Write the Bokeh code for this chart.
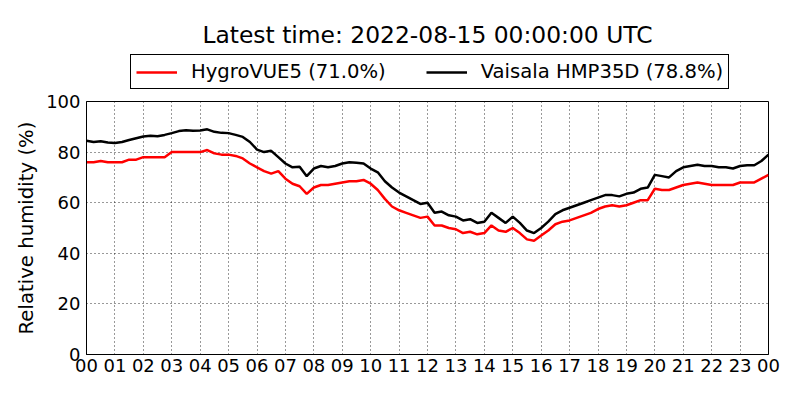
from bokeh.plotting import figure
from bokeh.models import Legend, LegendItem, FixedTicker, Range1d, Label
from bokeh.layouts import column
from bokeh.embed import file_html
from bokeh.resources import INLINE

# time in hours since 2022-08-14 00:00 UTC (15-minute samples)
hours = [0.00, 0.25, 0.50, 0.75, 1.00, 1.25, 1.50, 1.75, 2.00, 2.25, 2.50, 2.75,
         3.00, 3.25, 3.50, 3.75, 4.00, 4.25, 4.50, 4.75, 5.00, 5.25, 5.50, 5.75,
         6.00, 6.25, 6.50, 6.75, 7.00, 7.25, 7.50, 7.75, 8.00, 8.25, 8.50, 8.75,
         9.00, 9.25, 9.50, 9.75, 10.00, 10.25, 10.50, 10.75, 11.00, 11.25, 11.50, 11.75,
         12.00, 12.25, 12.50, 12.75, 13.00, 13.25, 13.50, 13.75, 14.00, 14.25, 14.50, 14.75,
         15.00, 15.25, 15.50, 15.75, 16.00, 16.25, 16.50, 16.75, 17.00, 17.25, 17.50, 17.75,
         18.00, 18.25, 18.50, 18.75, 19.00, 19.25, 19.50, 19.75, 20.00, 20.25, 20.50, 20.75,
         21.00, 21.25, 21.50, 21.75, 22.00, 22.25, 22.50, 22.75, 23.00, 23.25, 23.50, 23.75,
         24.00]

hygrovue5 = [76, 76, 76.5, 76, 76, 76, 77, 77, 78, 78, 78, 78,
             80, 80, 80, 80, 80, 80.8, 79.5, 79, 79, 78.5, 77.5, 75.5,
             74, 72.5, 71.5, 72.5, 69.5, 67.5, 66.5, 63.5, 66, 67, 67, 67.5,
             68, 68.5, 68.5, 69, 67.5, 65, 61.5, 58.5, 57, 56, 55, 54,
             54.5, 51, 51, 50, 49.5, 48, 48.5, 47.5, 48, 51, 49, 48.5,
             50, 48, 45.5, 45, 47, 49, 51.5, 52.5, 53, 54, 55, 56,
             57.5, 58.5, 59, 58.5, 59, 60, 61, 61, 65.5, 65, 65, 66,
             67, 67.5, 68, 67.5, 67, 67, 67, 67, 68, 68, 68, 69.5,
             71]

hmp35d = [84.5, 84.0, 84.3, 83.8, 83.6, 84.0, 84.8, 85.5, 86.2, 86.5, 86.3, 86.8,
          87.5, 88.3, 88.6, 88.4, 88.5, 89.0, 88.0, 87.6, 87.5, 86.8, 86.0, 84.0,
          81.0, 80.0, 80.5, 78.0, 75.5, 74.0, 74.2, 70.5, 73.5, 74.5, 74.0, 74.5,
          75.5, 76.0, 75.8, 75.5, 73.5, 72.0, 68.5, 66.0, 64.0, 62.5, 61.0, 59.5,
          60.0, 56.0, 56.5, 55.0, 54.5, 53.0, 53.5, 52.0, 52.5, 56.0, 54.0, 52.0,
          54.5, 52.0, 49.0, 48.0, 50.0, 52.5, 55.5, 57.0, 58.0, 59.0, 60.0, 61.0,
          62.0, 63.0, 63.0, 62.5, 63.5, 64.0, 65.5, 66.0, 71.0, 70.5, 70.0, 72.5,
          74.0, 74.5, 75.0, 74.5, 74.5, 74.0, 74.0, 73.5, 74.5, 74.8, 74.8, 76.5,
          79.0]

series_names = ["HygroVUE5 (71.0%)", "Vaisala HMP35D (78.8%)"]
series_colors = ["red", "black"]
title_text = "Latest time: 2022-08-15 00:00:00 UTC"

x_ticks = list(range(25))
x_tick_labels = ["00", "01", "02", "03", "04", "05", "06", "07", "08", "09", "10", "11",
                 "12", "13", "14", "15", "16", "17", "18", "19", "20", "21", "22", "23", "00"]
y_ticks = [0, 20, 40, 60, 80, 100]

FONT = "DejaVu Sans"
W = 784
TOP_H = 90
MAIN_H = 294
FRAME_W = W - 86 - 16

# ---- header: title and legend (frame aligned with the chart frame below) ----
head = figure(width=W, height=TOP_H, output_backend="svg", toolbar_location=None,
              x_range=Range1d(0, 1), y_range=Range1d(0, 1),
              x_axis_type=None, y_axis_type=None,
              min_border_left=86, min_border_right=16, min_border_top=0, min_border_bottom=0,
              background_fill_color="white", border_fill_color="white")
head.xgrid.visible = False
head.ygrid.visible = False
head.outline_line_color = None

head.add_layout(Label(x=FRAME_W / 2, y=TOP_H - 34, x_units="screen", y_units="screen",
                      text=title_text, text_align="center", text_baseline="middle",
                      text_font=FONT, text_font_size="23.4px", text_color="black"))

key_renderers = [head.line([float("nan")], [float("nan")], line_color=c, line_width=2.5)
                 for c in series_colors]
legend = Legend(items=[LegendItem(label=n, renderers=[r]) for n, r in zip(series_names, key_renderers)],
                orientation="horizontal", location=(44, 1), padding=5, spacing=40,
                glyph_width=41, glyph_height=18, label_height=18, label_standoff=14,
                label_text_font=FONT, label_text_font_size="19.6px", label_text_color="black",
                label_text_baseline="middle",
                border_line_color="black", border_line_width=1, border_line_alpha=1,
                background_fill_color="white", background_fill_alpha=1, margin=0)
head.add_layout(legend, "center")

# ---- main chart ----
p = figure(width=W, height=MAIN_H, output_backend="svg", toolbar_location=None,
           x_range=Range1d(0, 24), y_range=Range1d(0, 100),
           min_border_left=86, min_border_right=16, min_border_top=11, min_border_bottom=30,
           background_fill_color="white", border_fill_color="white")

p.line(hours, hygrovue5, line_color=series_colors[0], line_width=2.5)
p.line(hours, hmp35d, line_color=series_colors[1], line_width=2.5)

p.xaxis.ticker = FixedTicker(ticks=x_ticks)
p.xaxis.major_label_overrides = {t: l for t, l in zip(x_ticks, x_tick_labels)}
p.yaxis.ticker = FixedTicker(ticks=y_ticks)
p.yaxis.axis_label = "Relative humidity (%)"

for ax in (p.xaxis[0], p.yaxis[0]):
    ax.major_label_text_font = FONT
    ax.major_label_text_font_size = "18px"
    ax.major_label_text_color = "black"
    ax.major_tick_line_color = None
    ax.minor_tick_line_color = None
    ax.major_tick_out = 0
    ax.major_tick_in = 0
    ax.minor_tick_out = 0
    ax.axis_line_color = "black"
    ax.axis_line_width = 1
p.xaxis.major_label_standoff = 4
p.yaxis.major_label_standoff = 6
p.yaxis.axis_label_text_font = FONT
p.yaxis.axis_label_text_font_size = "19.7px"
p.yaxis.axis_label_text_font_style = "normal"
p.yaxis.axis_label_text_color = "black"
p.yaxis.axis_label_standoff = 5

p.xgrid.ticker = FixedTicker(ticks=x_ticks)
p.ygrid.ticker = FixedTicker(ticks=y_ticks)
for g in (p.xgrid[0], p.ygrid[0]):
    g.grid_line_color = "black"
    g.grid_line_dash = "1 3"
    g.grid_line_width = 1
    g.grid_line_alpha = 0.8

p.outline_line_color = "black"
p.outline_line_width = 1
p.outline_line_alpha = 1

layout = column(head, p, spacing=0)
open("out.html", "w").write(file_html(layout, INLINE))
